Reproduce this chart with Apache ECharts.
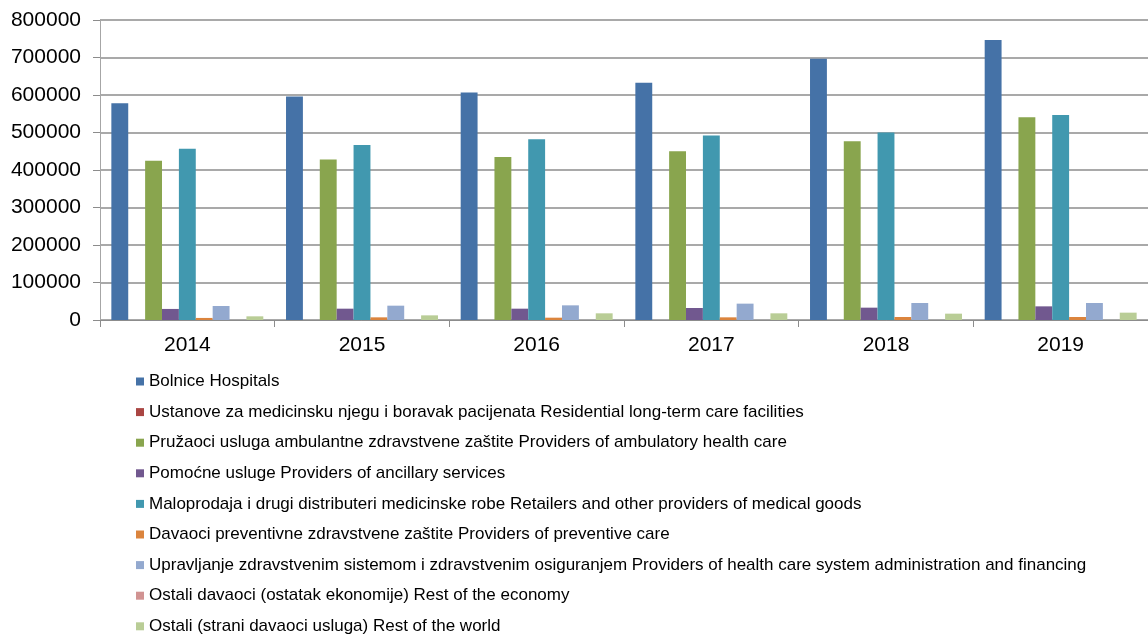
<!DOCTYPE html>
<html>
<head>
<meta charset="utf-8">
<script src="https://cdn.jsdelivr.net/npm/echarts@6/dist/echarts.min.js"></script>
<style>
html,body{margin:0;padding:0;background:#fff;}
#c{width:1148px;height:637px;}
</style>
</head>
<body>
<div id="c"></div>
<script>
var years = ['2014','2015','2016','2017','2018','2019'];
var yTicks = [0,100000,200000,300000,400000,500000,600000,700000,800000];

var names = [
  'Bolnice Hospitals',
  'Ustanove za medicinsku njegu i boravak pacijenata Residential long-term care facilities',
  'Pružaoci usluga ambulantne zdravstvene zaštite Providers of ambulatory health care',
  'Pomoćne usluge Providers of ancillary services',
  'Maloprodaja i drugi distributeri medicinske robe Retailers and other providers of medical goods',
  'Davaoci preventivne zdravstvene zaštite Providers of preventive care',
  'Upravljanje zdravstvenim sistemom i zdravstvenim osiguranjem Providers of health care system administration and financing',
  'Ostali davaoci (ostatak ekonomije) Rest of the economy',
  'Ostali (strani davaoci usluga) Rest of the world'
];

var hospitals   = [578000, 596000, 607000, 633000, 697000, 747000];
var residential = [0, 0, 0, 0, 0, 0];
var ambulatory  = [425000, 428000, 435000, 450000, 477000, 541000];
var ancillary   = [29500, 30200, 30200, 32000, 32900, 36400];
var retailers   = [457000, 467000, 482000, 492000, 500000, 547000];
var preventive  = [5500, 7100, 6200, 7100, 8000, 8000];
var administration = [37300, 38200, 39100, 43600, 45300, 45300];
var restEconomy = [0, 0, 0, 0, 0, 0];
var restWorld   = [9800, 12400, 17800, 17800, 16900, 19600];

var seriesData = [hospitals, residential, ambulatory, ancillary, retailers, preventive, administration, restEconomy, restWorld];
var colors = ['#4572A7','#AA4643','#89A54E','#71588F','#4198AF','#DB843D','#93A9CF','#D19392','#B9CD96'];

var chart = echarts.init(document.getElementById('c'));
var font = '"Liberation Sans", Arial, sans-serif';

var series = names.map(function(n, i){
  return {
    name: n,
    type: 'bar',
    data: seriesData[i],
    barGap: '0%',
    barCategoryGap: '13%',
    itemStyle: { color: colors[i] },
    emphasis: { disabled: true },
    animation: false
  };
});

chart.setOption({
  animation: false,
  color: colors,
  textStyle: { fontFamily: font },
  grid: { left: 100, top: 20, bottom: 317, right: -8, containLabel: false },
  xAxis: {
    type: 'category',
    data: years,
    boundaryGap: true,
    axisLine: { show: true, lineStyle: { color: '#8c8c8c', width: 1 } },
    axisTick: { show: true, length: 7, lineStyle: { color: '#8c8c8c' } },
    axisLabel: { color: '#000', fontSize: 21, fontFamily: font, margin: 15 }
  },
  yAxis: {
    type: 'value',
    min: yTicks[0],
    max: yTicks[yTicks.length - 1],
    interval: yTicks[1] - yTicks[0],
    axisLine: { show: true, lineStyle: { color: '#a6a6a6', width: 1 } },
    axisTick: { show: true, length: 7, lineStyle: { color: '#8c8c8c' } },
    splitLine: { show: true, lineStyle: { color: '#8c8c8c', width: 1.5 } },
    axisLabel: { color: '#000', fontSize: 21, fontFamily: font, margin: 19,
      formatter: function(v){ return String(v); } }
  },
  legend: {
    orient: 'vertical',
    left: 136,
    top: 373,
    padding: 0,
    itemWidth: 8,
    itemHeight: 8,
    itemGap: 13.6,
    icon: 'rect',
    selectedMode: false,
    textStyle: { color: '#000', fontSize: 17, fontFamily: font, lineHeight: 17, padding: [0,0,0,0] },
    data: names
  },
  series: series
});
</script>
</body>
</html>
